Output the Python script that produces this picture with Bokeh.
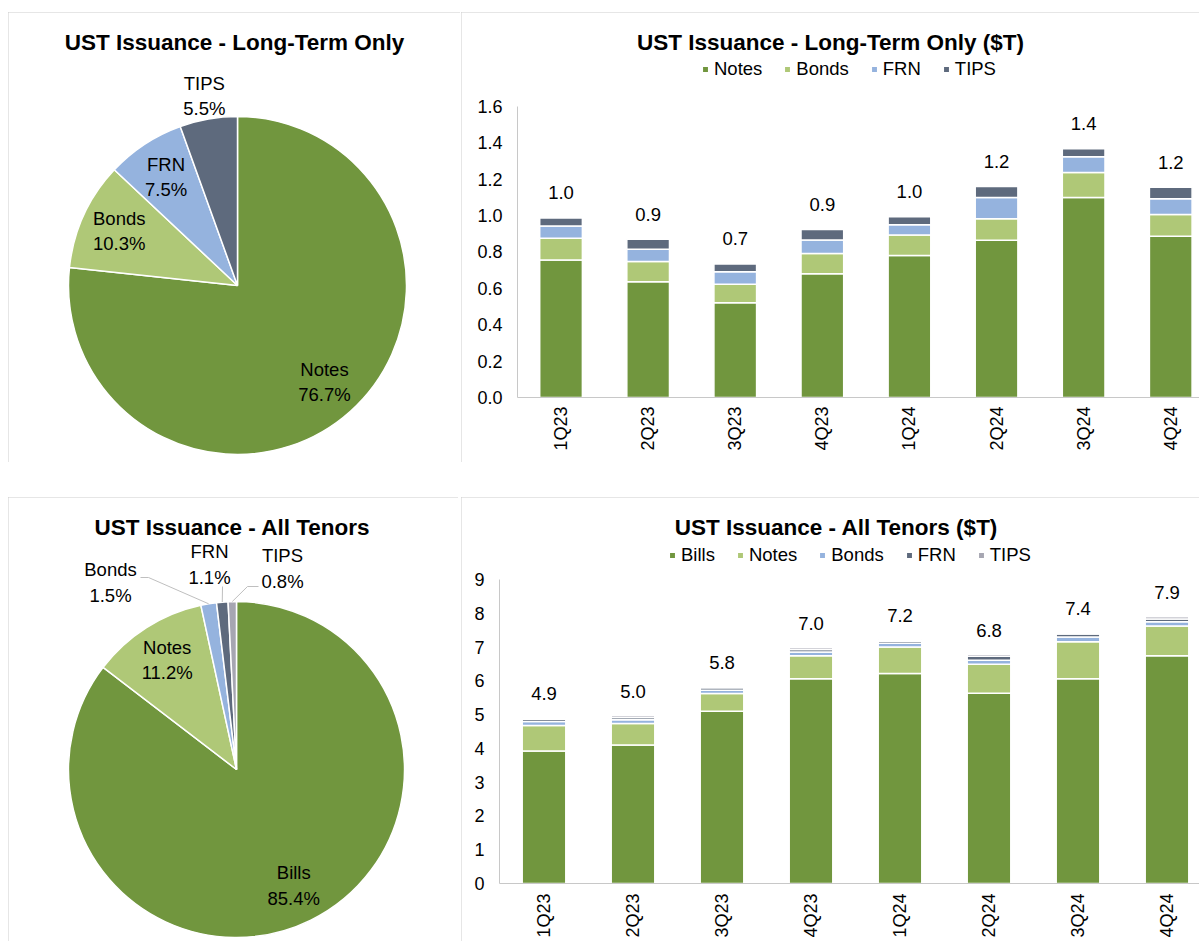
import math
import numpy as np
from bokeh.plotting import figure
from bokeh.models import (ColumnDataSource, Range1d, FixedTicker, Legend, LegendItem,
                          Label, Spacer, PrintfTickFormatter)
from bokeh.layouts import column, row
from bokeh.embed import file_html
from bokeh.resources import INLINE
from bokeh.core.properties import value

# ---------------- data ----------------
quarters = ["1Q23", "2Q23", "3Q23", "4Q23", "1Q24", "2Q24", "3Q24", "4Q24"]
lt_notes = [0.756, 0.637, 0.521, 0.681, 0.780, 0.864, 1.099, 0.886]
lt_bonds = [0.119, 0.110, 0.101, 0.110, 0.114, 0.118, 0.138, 0.120]
lt_frn = [0.068, 0.068, 0.070, 0.075, 0.056, 0.117, 0.086, 0.086]
lt_tips = [0.044, 0.055, 0.042, 0.057, 0.044, 0.061, 0.044, 0.064]
bills = [3.92, 4.10, 5.10, 6.06, 6.22, 5.63, 6.06, 6.74]

lt_pie_names = ["Notes", "Bonds", "FRN", "TIPS"]
lt_pie_pct = [76.7, 10.3, 7.5, 5.5]
all_pie_names = ["Bills", "Notes", "Bonds", "FRN", "TIPS"]
all_pie_pct = [85.4, 11.2, 1.5, 1.1, 0.8]

lt_ticks = [0.0, 0.2, 0.4, 0.6, 0.8, 1.0, 1.2, 1.4, 1.6]
all_ticks = [0, 1, 2, 3, 4, 5, 6, 7, 8, 9]

# ---------------- style ----------------
DKGREEN = "#71963E"
LTGREEN = "#AFC877"
BLUE = "#95B3DE"
SLATE = "#5E6A7D"
GRAY = "#A6A6B2"
FONT = "Liberation Sans"
BORDER = {"outline": "1px solid #cccccc", "outline-offset": "-1px"}
AXIS_COLOR = "#c8c8c8"


def base_fig(width, height, xr, yr, **kw):
    p = figure(width=width, height=height, x_range=Range1d(*xr), y_range=Range1d(*yr),
               toolbar_location=None, output_backend="svg", min_border=0, **kw)
    p.outline_line_color = None
    p.background_fill_color = "white"
    p.border_fill_color = "white"
    p.styles = BORDER
    return p


def pie_panel(width, height, cx, cy, r, names, pcts, colors, title, title_xy,
              label_factor, manual_pos, leaders):
    p = base_fig(width, height, (0, width), (0, height), x_axis_type=None, y_axis_type=None)
    frac = np.array(pcts) / sum(pcts)
    cum = np.concatenate([[0.0], np.cumsum(frac)]) * 2 * math.pi
    start = math.pi / 2 - cum[1:]
    end = math.pi / 2 - cum[:-1]
    mid = math.pi / 2 - (cum[1:] + cum[:-1]) / 2
    src = ColumnDataSource(dict(start=start, end=end, color=colors))
    p.wedge(x=cx, y=cy, radius=r, start_angle="start", end_angle="end",
            fill_color="color", line_color="white", line_width=1.5, source=src)
    lx, ly, lab = [], [], []
    for i, n in enumerate(names):
        if n in manual_pos:
            dx, dy = manual_pos[n]
        else:
            dx = label_factor[i] * r * math.cos(mid[i])
            dy = label_factor[i] * r * math.sin(mid[i])
        lx.append(cx + dx)
        ly.append(cy + dy)
        lab.append(f"{n}\n{pcts[i]:.1f}%")
    xs, ys = [], []
    for n, pts in leaders.items():
        i = names.index(n)
        ex = cx + r * math.cos(mid[i])
        ey = cy + r * math.sin(mid[i])
        xs.append([ex] + [cx + a for a, b in pts])
        ys.append([ey] + [cy + b for a, b in pts])
    if xs:
        p.multi_line(xs=xs, ys=ys, line_color="#bfbfbf", line_width=1)
    p.text(x=lx, y=ly, text=lab, text_align="center", text_baseline="middle",
           text_font=value(FONT), text_font_size="18.5px", text_line_height=1.2,
           text_color="black")
    p.add_layout(Label(x=title_xy[0], y=title_xy[1], text=title, text_align="center",
                       text_baseline="middle", text_font=FONT, text_font_size="22.5px",
                       text_font_style="bold", text_color="black"))
    return p


def bar_panel(width, height, left_px, bottom_px, top_px, px_unit, slot_px, series, names,
              colors, ticks, fmt, title, title_rel, legend_loc, label_offset, x_standoff):
    # whole canvas is the frame; axes are fixed at x=0 / y=0 inside it
    x_start = -left_px / slot_px
    x_end = (width - left_px) / slot_px
    y_start = -bottom_px / px_unit
    y_end = (height - bottom_px) / px_unit
    p = base_fig(width, height, (x_start, x_end), (y_start, y_end))
    p.xgrid.visible = False
    p.ygrid.visible = False

    xpos = [i + 0.5 for i in range(len(quarters))]
    data = dict(x=xpos)
    for n, s in zip(names, series):
        data[n] = s
    totals = [sum(v) for v in zip(*series)]
    data["total"] = totals
    data["lab"] = [f"{t:.1f}" for t in totals]
    src = ColumnDataSource(data)
    rends = p.vbar_stack(names, x="x", width=0.49, fill_color=colors, line_color="white",
                         line_width=1.5, source=src)
    p.text(x="x", y="total", text="lab", source=src, y_offset=-label_offset,
           text_align="center", text_baseline="middle", text_font=value(FONT),
           text_font_size="18.5px", text_color="black")

    yax = p.yaxis[0]
    yax.fixed_location = 0
    yax.ticker = FixedTicker(ticks=ticks)
    yax.formatter = PrintfTickFormatter(format=fmt)
    yax.bounds = (ticks[0], ticks[-1])
    yax.axis_line_color = AXIS_COLOR
    yax.major_tick_line_color = None
    yax.minor_tick_line_color = None
    yax.major_tick_out = 0
    yax.major_tick_in = 0
    yax.major_label_standoff = 15
    yax.major_label_text_font = FONT
    yax.major_label_text_font_size = "18px"
    yax.major_label_text_color = "black"

    xax = p.xaxis[0]
    xax.fixed_location = 0
    xax.bounds = (0, x_end)
    xax.ticker = FixedTicker(ticks=xpos)
    xax.major_label_overrides = {x: q for x, q in zip(xpos, quarters)}
    xax.major_label_orientation = math.pi / 2
    xax.axis_line_color = AXIS_COLOR
    xax.major_tick_line_color = None
    xax.minor_tick_line_color = None
    xax.major_tick_out = 0
    xax.major_tick_in = 0
    xax.major_label_standoff = x_standoff
    xax.major_label_text_font = FONT
    xax.major_label_text_font_size = "18px"
    xax.major_label_text_color = "black"

    p.add_layout(Label(x=title_rel[0] / slot_px, y=title_rel[1] / px_unit, text=title,
                       text_align="center", text_baseline="middle", text_font=FONT,
                       text_font_size="22.5px", text_font_style="bold", text_color="black"))
    legend = Legend(items=[LegendItem(label=n, renderers=[r]) for n, r in zip(names, rends)],
                    orientation="horizontal", location=legend_loc,
                    glyph_width=8, glyph_height=8, label_standoff=5, spacing=21,
                    padding=0, margin=0, border_line_color=None, background_fill_alpha=0,
                    label_text_font=FONT, label_text_font_size="18.5px", label_height=20,
                    label_text_color="black")
    p.add_layout(legend)
    return p


# ---------------- panels ----------------
p1 = pie_panel(452, 450, 229, 177, 169, lt_pie_names, lt_pie_pct,
               [DKGREEN, LTGREEN, BLUE, SLATE], "UST Issuance - Long-Term Only", (226, 420),
               [0.77, 0.77, 0.77, 1.14], {}, {})

p2 = bar_panel(738, 450, 56, 65, 385, 181.9, 87.1,
               [lt_notes, lt_bonds, lt_frn, lt_tips], ["Notes", "Bonds", "FRN", "TIPS"],
               [DKGREEN, LTGREEN, BLUE, SLATE], lt_ticks, "%.1f",
               "UST Issuance - Long-Term Only ($T)", (830 - 517, 397 - 42), (240, 382), 25, 9)

p3 = pie_panel(450, 444, 228, 172, 168, all_pie_names, all_pie_pct,
               [DKGREEN, LTGREEN, BLUE, SLATE, GRAY], "UST Issuance - All Tenors", (224, 414),
               [0.77, 0.77, 1.1, 1.1, 1.1],
               {"Bonds": (-126, 187), "FRN": (-27, 205), "TIPS": (46, 201)},
               {"Bonds": [(-88, 192), (-96, 192)], "FRN": [(-14, 183)],
                "TIPS": [(11, 183), (22, 183)]})

p4 = bar_panel(738, 444, 38, 58, 386, 33.78, 89.0,
               [bills, lt_notes, lt_bonds, lt_frn, lt_tips],
               ["Bills", "Notes", "Bonds", "FRN", "TIPS"],
               [DKGREEN, LTGREEN, BLUE, SLATE, GRAY], all_ticks, "%d",
               "UST Issuance - All Tenors ($T)", (836 - 499, 883 - 527), (207, 375), 24, 10)

layout = column(Spacer(height=12),
                row(Spacer(width=8), p1, Spacer(width=1), p2),
                Spacer(height=35),
                row(Spacer(width=8), p3, Spacer(width=3), p4))

open("out.html", "w").write(file_html(layout, INLINE))
